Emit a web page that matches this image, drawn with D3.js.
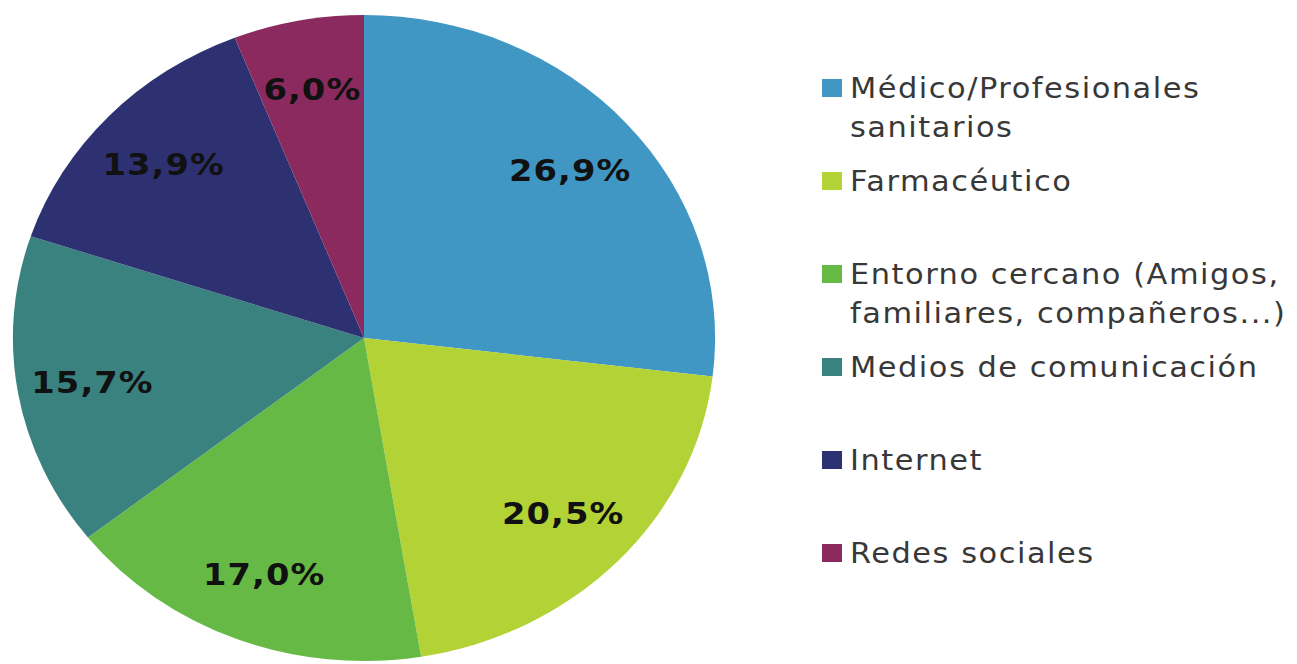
<!DOCTYPE html>
<html>
<head>
<meta charset="utf-8">
<script src="https://cdn.jsdelivr.net/npm/d3@7"></script>
<style>
  html, body { margin: 0; padding: 0; background: #ffffff; }
  svg { display: block; }
</style>
</head>
<body>
<svg id="chart" width="1297" height="664"></svg>
<script>
// ---- data ----
const categories = [
  ["Médico/Profesionales", "sanitarios"],
  ["Farmacéutico"],
  ["Entorno cercano (Amigos,", "familiares, compañeros...)"],
  ["Medios de comunicación"],
  ["Internet"],
  ["Redes sociales"]
];
const values = [26.9, 20.5, 17.0, 15.7, 13.9, 6.0];
const valueLabels = ["26,9%", "20,5%", "17,0%", "15,7%", "13,9%", "6,0%"];
const colors = ["#4097C4", "#B2D235", "#66B945", "#3A8280", "#2E3171", "#8A2A5E"];

// ---- layout ----
const svg = d3.select("#chart");
const cx = 364, cy = 338, r = 323, sx = 1.087;
const idx = d3.range(values.length);

const color = d3.scaleOrdinal().domain(idx).range(colors);
const pie = d3.pie().sort(null).value(i => values[i]);
const arc = d3.arc().innerRadius(0).outerRadius(r);
const labelArc = d3.arc().innerRadius(r * 0.785).outerRadius(r * 0.785);
const arcs = pie(idx);

const g = svg.append("g").attr("transform", `translate(${cx},${cy}) scale(${sx},1)`);
g.selectAll("path.slice").data(arcs).enter().append("path")
  .attr("class", "slice")
  .attr("d", arc)
  .attr("fill", d => color(d.data));

g.selectAll("text.val").data(arcs).enter().append("text")
  .attr("class", "val")
  .attr("transform", d => `translate(${labelArc.centroid(d)})`)
  .attr("text-anchor", "middle")
  .attr("dy", "0.36em")
  .attr("font-family", "'DejaVu Sans', Verdana, sans-serif")
  .attr("font-weight", "bold")
  .attr("font-size", 31)
  .attr("letter-spacing", 1)
  .attr("fill", "#111111")
  .text(d => valueLabels[d.data]);

// ---- legend ----
const ly = d3.scalePoint().domain(idx).range([98, 98 + 93 * 5]);
const leg = svg.append("g").attr("transform", `translate(822,0) scale(${sx},1)`);
const items = leg.selectAll("g.item").data(idx).enter().append("g")
  .attr("class", "item")
  .attr("transform", i => `translate(0,${ly(i)})`);
items.append("rect")
  .attr("x", 0).attr("y", -19)
  .attr("width", 20 / sx).attr("height", 18)
  .attr("fill", i => color(i));
items.append("text")
  .attr("x", 28 / sx)
  .attr("font-family", "'DejaVu Sans', Verdana, sans-serif")
  .attr("font-size", 28)
  .attr("letter-spacing", 1.4)
  .attr("fill", "#383838")
  .selectAll("tspan").data(i => categories[i]).enter().append("tspan")
  .attr("x", 28 / sx)
  .attr("dy", (d, k) => k === 0 ? 0 : 39)
  .text(d => d);
</script>
</body>
</html>
